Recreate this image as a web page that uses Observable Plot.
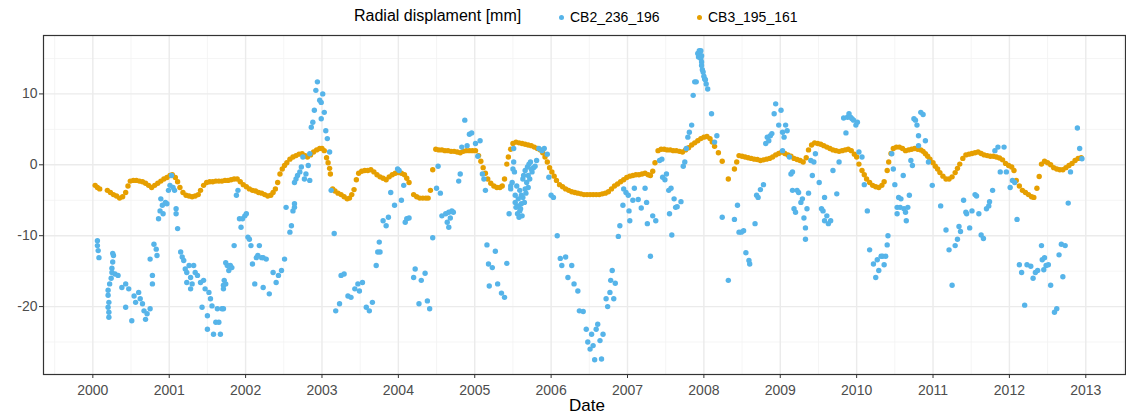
<!DOCTYPE html>
<html><head><meta charset="utf-8">
<script src="https://cdn.jsdelivr.net/npm/d3@7"></script>
<script src="https://cdn.jsdelivr.net/npm/@observablehq/plot@0.6"></script>
<style>
body{margin:0;background:#fff;font-family:"Liberation Sans",Arial,sans-serif;}
#wrap{position:relative;width:1126px;height:417px;overflow:hidden;background:#fff;}
#chart{position:absolute;top:30px;left:0;}
.lg{position:absolute;white-space:nowrap;color:#000;}
.dot{position:absolute;width:5px;height:5px;border-radius:50%;}
</style></head><body>
<div id="wrap">
  <div id="legend"></div>
  <div id="chart"></div>
  <div id="xlabel" class="lg" style="left:569px;top:396px;font-size:17px;"></div>
</div>
<script>
const seriesNames = ["CB2_236_196", "CB3_195_161"];
const seriesColors = ["#56B4E9", "#E69F00"];
const legendTitle = "Radial displament [mm]";
const xLabel = "Date";
const xTicks = [2000,2001,2002,2003,2004,2005,2006,2007,2008,2009,2010,2011,2012,2013];
const xMinor = [1999.5,2000.5,2001.5,2002.5,2003.5,2004.5,2005.5,2006.5,2007.5,2008.5,2009.5,2010.5,2011.5,2012.5,2013.5];
const yTicks = [-20,-10,0,10];
const yMinor = [-25,-15,-5,5,15];
const xDomain = [1999.354, 2013.52];
const yDomain = [-29.58, 18.24];

// CB2_236_196 : [decimal year, radial displacement mm]
const cb2 = [
[2000.06,-10.7],[2000.06,-11.4],[2000.07,-12.1],[2000.08,-13.1],
[2000.20,-17.7],[2000.20,-18.4],[2000.21,-19.4],[2000.20,-20.1],[2000.21,-20.8],[2000.21,-21.5],[2000.22,-16.8],
[2000.24,-16.0],[2000.25,-14.6],[2000.26,-13.7],[2000.27,-12.8],[2000.26,-12.5],[2000.25,-15.2],[2000.29,-15.4],[2000.33,-15.6],
[2000.38,-17.3],[2000.43,-16.8],[2000.47,-17.5],[2000.43,-20.1],[2000.51,-22.0],[2000.54,-18.5],[2000.56,-19.4],[2000.60,-18.0],
[2000.62,-18.9],[2000.65,-19.6],[2000.67,-20.6],[2000.69,-21.8],[2000.71,-21.0],[2000.75,-20.3],[2000.78,-15.6],[2000.78,-16.8],
[2000.75,-13.3],[2000.80,-11.2],[2000.83,-11.9],[2000.84,-12.8],[2000.86,-7.6],[2000.88,-6.5],[2000.89,-4.8],[2000.91,-5.7],
[2000.92,-6.9],[2000.95,-5.3],[2000.97,-5.5],[2000.99,-3.6],[2001.01,-2.9],[2001.03,-1.5],[2001.05,-3.2],[2001.07,-3.6],
[2001.09,-6.2],[2001.09,-6.9],[2001.11,-9.0],[2001.15,-12.3],[2001.17,-13.0],[2001.19,-13.5],[2001.21,-14.7],[2001.23,-15.2],
[2001.26,-14.2],[2001.28,-15.9],[2001.30,-16.8],[2001.32,-14.2],[2001.34,-15.2],[2001.37,-15.6],[2001.28,-17.5],[2001.23,-16.6],
[2001.41,-16.6],[2001.43,-20.1],[2001.45,-16.3],[2001.47,-17.5],[2001.50,-21.3],[2001.52,-18.0],[2001.50,-23.2],[2001.54,-18.9],
[2001.56,-19.9],[2001.58,-23.9],[2001.61,-22.2],[2001.63,-20.3],[2001.65,-22.2],[2001.67,-23.9],[2001.69,-20.3],[2001.74,-13.8],
[2001.74,-16.8],[2001.71,-17.0],[2001.72,-16.3],[2001.71,-17.5],[2001.71,-20.3],[2001.76,-14.2],[2001.78,-14.9],[2001.80,-14.2],
[2001.82,-14.5],[2001.85,-11.4],[2001.88,-4.3],[2001.90,-3.6],[2001.92,-7.6],[2001.94,-8.8],[2001.96,-7.6],[2001.99,-7.2],
[2002.01,-6.9],[2002.03,-10.2],[2002.05,-10.5],[2002.07,-11.4],[2002.09,-14.0],[2002.12,-16.8],[2002.14,-13.1],[2002.16,-12.8],
[2002.18,-11.4],[2002.21,-13.1],[2002.23,-13.1],[2002.23,-17.3],[2002.27,-13.3],[2002.31,-18.2],[2002.36,-15.2],[2002.40,-16.6],
[2002.43,-15.6],[2002.47,-14.9],[2002.51,-13.3],[2002.53,-6.0],[2002.58,-9.5],[2002.60,-8.6],[2002.62,-6.5],[2002.64,-5.5],
[2002.64,-6.0],[2002.64,-2.5],[2002.66,-2.0],[2002.68,-1.5],[2002.71,-1.0],[2002.73,-0.3],[2002.75,1.1],[2002.77,-2.0],
[2002.79,-1.3],[2002.82,-0.1],[2002.84,-2.2],[2002.84,1.55],[2002.86,5.3],[2002.88,6.0],[2002.90,7.7],[2002.92,10.5],
[2002.94,11.7],[2002.97,9.1],[2002.99,8.8],[2003.01,10.0],[2003.03,7.4],[2002.99,6.5],[2003.05,4.8],[2003.07,3.7],
[2003.10,1.8],[2003.12,-3.6],[2003.16,-9.7],[2003.18,-20.6],[2003.23,-19.6],[2003.25,-15.6],[2003.29,-15.4],[2003.34,-18.5],
[2003.38,-18.7],[2003.43,-17.5],[2003.47,-16.8],[2003.49,-17.8],[2003.53,-16.6],[2003.58,-20.1],[2003.62,-20.6],[2003.66,-19.4],
[2003.71,-14.2],[2003.73,-12.3],[2003.75,-10.9],[2003.76,-12.3],[2003.80,-7.9],[2003.84,-8.6],[2003.87,-7.4],[2003.90,-3.9],
[2003.95,-5.7],[2003.99,-0.6],[2004.04,-5.0],[2004.01,-0.8],[2004.07,-2.9],[2004.09,-8.1],[2004.11,-7.6],[2004.14,-7.5],
[2004.20,-15.9],[2004.22,-14.7],[2004.27,-19.6],[2004.30,-16.3],[2004.35,-15.3],[2004.38,-19.2],[2004.41,-20.3],[2004.45,-10.3],
[2004.50,-3.3],[2004.52,-0.2],[2004.55,-4.0],[2004.57,-7.2],[2004.62,-6.9],[2004.64,-8.1],[2004.66,-6.7],[2004.68,-7.5],
[2004.70,-6.5],[2004.72,-6.7],[2004.66,-8.8],[2004.79,-2.3],[2004.81,-1.3],[2004.83,2.5],[2004.87,6.3],[2004.90,2.7],
[2004.93,4.3],[2004.96,4.5],[2005.01,3.0],[2005.07,3.4],[2005.04,1.2],[2005.10,-1.3],[2005.12,-2.0],[2005.14,-3.6],
[2005.16,-11.3],[2005.18,-14.0],[2005.23,-14.5],[2005.27,-12.2],[2005.42,-13.9],[2005.19,-17.1],[2005.30,-16.8],[2005.35,-18.1],
[2005.39,-18.7],[2005.45,-6.9],
[2005.47,-3.4],[2005.47,-3.0],[2005.49,-2.5],[2005.50,-0.6],[2005.51,2.3],[2005.51,0.4],[2005.52,-1.0],[2005.53,-4.3],
[2005.53,-5.3],[2005.54,-6.0],[2005.55,-3.0],[2005.56,-6.9],[2005.57,-4.8],[2005.57,-5.8],[2005.58,-7.4],[2005.59,-6.5],
[2005.59,-3.6],[2005.60,-6.2],[2005.61,-4.3],[2005.61,-5.5],[2005.62,-7.2],[2005.63,-2.0],[2005.63,-4.6],[2005.64,-1.5],
[2005.65,-5.3],[2005.66,-3.4],[2005.66,-0.8],[2005.67,-4.0],[2005.68,-2.5],[2005.69,-0.3],[2005.70,-3.2],[2005.70,-1.5],
[2005.71,0.1],[2005.72,-2.0],[2005.73,0.4],[2005.74,-0.6],[2005.75,-1.0],[2005.77,-0.4],[2005.79,-0.2],[2005.81,0.6],
[2005.84,2.3],[2005.88,2.0],[2005.91,2.3],
[2005.95,1.5],[2005.97,-1.75],[2006.00,-4.3],[2006.03,-4.6],[2006.08,-10.0],[2006.12,-13.2],[2006.19,-13.0],[2006.14,-14.2],
[2006.27,-14.2],[2006.22,-15.9],[2006.30,-16.8],[2006.35,-17.8],[2006.37,-20.6],[2006.42,-20.7],[2006.46,-23.2],[2006.48,-25.0],
[2006.51,-26.0],[2006.53,-23.9],[2006.55,-25.5],[2006.57,-27.5],[2006.59,-23.2],[2006.61,-22.5],[2006.64,-24.8],[2006.66,-27.4],
[2006.68,-23.9],[2006.72,-18.9],[2006.74,-20.0],[2006.77,-18.0],[2006.78,-16.3],[2006.80,-14.9],[2006.82,-18.9],[2006.84,-16.7],
[2006.88,-10.1],[2006.90,-8.6],[2006.94,-5.7],[2006.95,-3.4],[2006.98,-3.9],[2007.01,-4.3],[2007.02,-6.5],[2007.03,-7.9],
[2007.07,-5.0],[2007.09,-3.3],[2007.14,-4.9],[2007.18,-6.1],[2007.23,-3.3],[2007.25,-5.3],[2007.26,-8.3],[2007.30,-12.9],
[2007.33,-7.2],[2007.37,-7.9],[2007.42,0.6],[2007.45,0.8],[2007.46,-1.75],[2007.49,-2.1],[2007.51,-1.3],[2007.54,-3.6],
[2007.57,-3.3],[2007.55,-6.9],[2007.58,-9.9],[2007.61,-4.8],[2007.63,-6.0],[2007.65,-5.9],[2007.70,-5.2],[2007.73,-0.2],
[2007.75,0.4],[2007.77,2.3],[2007.79,3.9],[2007.81,4.6],[2007.84,5.6],[2007.86,9.8],[2007.88,11.7],[2007.90,11.7],
[2007.92,15.7],[2007.94,16.1],[2007.96,15.0],[2007.97,14.0],[2007.99,13.1],[2008.01,12.1],[2008.03,11.4],[2008.05,10.7],
[2007.93,15.2],[2007.97,14.5],[2007.98,13.4],[2008.00,12.5],[2008.02,12.0],[2007.95,16.0],[2007.96,16.1],[2007.97,15.4],
[2008.10,7.2],[2008.14,3.2],[2008.17,4.1],[2008.24,-7.4],[2008.32,-16.3],[2008.40,-7.7],[2008.44,-5.7],[2008.46,-9.5],
[2008.49,-9.5],[2008.52,-9.3],[2008.55,-12.4],[2008.59,-13.5],[2008.60,-14.0],[2008.67,-8.3],[2008.69,-4.3],[2008.71,-4.6],
[2008.74,-3.5],[2008.78,-2.8],[2008.81,3.0],[2008.83,3.9],[2008.85,3.4],[2008.87,4.1],[2008.89,4.4],[2008.92,7.2],
[2008.94,8.6],[2008.98,5.6],[2009.01,7.7],[2009.03,4.6],[2009.05,3.9],[2009.07,5.6],[2009.09,4.8],[2009.03,2.0],
[2009.12,1.1],[2009.14,-1.3],[2009.16,-1.0],[2009.16,-3.6],[2009.18,-6.2],[2009.20,-6.7],[2009.22,-3.6],[2009.24,-3.9],
[2009.27,-5.3],[2009.29,-4.8],[2009.31,-7.5],[2009.33,-8.9],[2009.33,-10.5],[2009.35,-6.2],[2009.37,-4.0],[2009.40,0.6],
[2009.42,-1.5],[2009.44,0.4],[2009.46,1.55],[2009.51,-2.5],[2009.54,-6.2],[2009.56,-6.5],[2009.58,-4.6],[2009.58,-7.9],
[2009.61,-7.2],[2009.63,-8.3],[2009.66,-7.9],[2009.69,-0.8],[2009.74,-4.1],[2009.77,0.4],[2009.83,6.6],[2009.86,4.5],
[2009.88,6.7],[2009.90,7.2],[2009.92,6.7],[2009.94,6.5],[2009.96,6.3],[2009.99,5.6],[2010.01,6.0],[2010.03,1.8],
[2010.07,1.1],[2010.10,-2.8],[2010.14,-6.5],[2010.17,-12.0],[2010.22,-14.0],[2010.25,-15.9],[2010.27,-13.4],[2010.29,-14.9],
[2010.32,-12.9],[2010.34,-12.9],[2010.36,-14.1],[2010.38,-12.9],[2010.40,-11.3],[2010.41,-10.0],[2010.46,1.55],[2010.48,-0.6],
[2010.50,-2.8],[2010.53,-6.9],[2010.53,-6.0],[2010.55,-4.6],[2010.57,-6.0],[2010.58,-4.8],[2010.61,-1.5],[2010.62,-6.2],
[2010.64,-6.7],[2010.65,-7.9],[2010.67,-6.0],[2010.69,-4.3],[2010.71,0.6],[2010.73,-0.1],[2010.75,6.5],[2010.77,6.3],
[2010.79,5.6],[2010.81,4.1],[2010.81,2.7],[2010.84,7.4],[2010.87,7.1],[2010.90,3.4],[2010.94,0.4],[2010.99,-2.9],
[2011.10,-5.8],[2011.17,-9.2],[2011.21,-12.0],[2011.25,-17.0],[2011.29,-11.4],[2011.32,-10.5],[2011.34,-8.7],[2011.36,-9.4],
[2011.40,-5.0],[2011.43,-6.7],[2011.44,-6.9],[2011.48,-8.9],[2011.51,-6.5],[2011.55,-4.2],[2011.57,-4.4],[2011.60,-6.9],
[2011.63,-9.9],[2011.66,-10.4],[2011.70,-6.2],[2011.73,-5.8],[2011.74,-5.2],[2011.78,-3.6],[2011.81,2.0],[2011.85,2.5],
[2011.93,2.5],[2011.88,-1.0],[2011.96,-1.0],[2012.01,-3.2],[2012.04,-2.2],[2012.07,-2.5],[2012.10,-7.7],[2012.13,-14.1],
[2012.16,-15.2],[2012.20,-19.8],[2012.23,-14.1],[2012.28,-14.3],[2012.31,-16.0],[2012.34,-15.2],[2012.37,-14.9],[2012.42,-11.4],
[2012.43,-13.4],[2012.45,-14.8],[2012.46,-13.1],[2012.48,-14.2],[2012.51,-14.1],[2012.54,-17.0],[2012.59,-20.8],[2012.62,-20.3],
[2012.65,-12.7],[2012.68,-11.2],[2012.70,-15.8],[2012.73,-11.4],[2012.77,-5.4],[2012.80,-1.0],[2012.89,5.2],[2012.92,2.3],
[2012.95,0.85]
];

// CB3_195_161 : [decimal year, radial displacement mm]
const cb3 = [
[2000.03,-2.9],[2000.06,-3.2],[2000.09,-3.4],
[2000.19,-3.6],[2000.23,-3.9],[2000.27,-4.2],[2000.31,-4.4],[2000.35,-4.7],[2000.39,-4.5],[2000.43,-3.9],[2000.46,-3.0],[2000.49,-2.3],
[2000.53,-2.2],[2000.57,-2.2],[2000.61,-2.3],[2000.65,-2.4],[2000.69,-2.6],[2000.73,-2.9],[2000.77,-3.2],[2000.81,-2.9],[2000.85,-2.6],
[2000.89,-2.3],[2000.93,-2.0],[2000.97,-1.8],[2001.01,-1.5],[2001.04,-1.4],[2001.08,-1.8],[2001.11,-2.4],[2001.14,-3.2],[2001.18,-3.9],
[2001.22,-4.3],[2001.26,-4.4],[2001.30,-4.5],[2001.34,-4.4],[2001.38,-4.2],[2001.41,-3.6],[2001.45,-2.9],[2001.49,-2.5],[2001.53,-2.4],
[2001.57,-2.4],[2001.61,-2.3],[2001.65,-2.3],[2001.69,-2.3],[2001.73,-2.2],[2001.77,-2.2],[2001.81,-2.1],[2001.85,-2.0],[2001.89,-2.0],
[2001.93,-2.4],[2001.97,-2.8],[2002.01,-3.1],[2002.05,-3.4],[2002.09,-3.6],[2002.13,-3.7],[2002.17,-3.9],[2002.21,-4.0],[2002.25,-4.2],
[2002.29,-4.4],[2002.33,-4.3],[2002.36,-3.9],[2002.39,-3.4],
[2002.42,-2.5],[2002.45,-1.3],[2002.48,-0.6],
[2002.51,-0.1],[2002.54,0.3],[2002.58,0.8],[2002.62,1.1],[2002.66,1.3],[2002.70,1.5],[2002.74,1.55],[2002.78,1.3],[2002.81,1.1],
[2002.85,1.4],[2002.89,1.8],[2002.93,2.1],[2002.97,2.3],[2003.00,2.3],[2003.03,2.0],
[2003.06,1.0],[2003.08,0.3],[2003.10,-0.5],[2003.11,-1.3],
[2003.14,-3.4],[2003.17,-3.7],[2003.21,-4.0],[2003.25,-4.2],[2003.29,-4.5],[2003.33,-4.8],[2003.36,-4.7],[2003.39,-4.2],[2003.42,-3.5],
[2003.45,-2.1],[2003.48,-1.2],
[2003.52,-0.9],[2003.56,-0.8],[2003.60,-0.8],[2003.64,-0.7],[2003.68,-1.0],[2003.72,-1.4],[2003.76,-1.7],[2003.80,-1.9],[2003.84,-2.1],
[2003.88,-1.7],[2003.92,-1.4],[2003.96,-1.2],[2004.00,-1.1],[2004.04,-1.2],[2004.08,-1.4],[2004.11,-1.9],[2004.14,-2.5],
[2004.20,-4.2],[2004.24,-4.5],[2004.28,-4.7],[2004.32,-4.7],[2004.36,-4.7],[2004.39,-4.7],
[2004.42,-3.6],[2004.45,-0.7],
[2004.49,2.2],[2004.53,2.1],[2004.57,2.1],[2004.61,2.0],[2004.65,2.0],[2004.69,1.9],[2004.73,1.9],[2004.77,1.8],[2004.81,1.7],
[2004.85,1.9],[2004.89,2.0],[2004.93,2.0],[2004.97,2.0],[2005.01,2.0],
[2005.05,1.3],[2005.08,0.5],[2005.11,-0.4],[2005.14,-1.2],[2005.17,-2.0],[2005.21,-2.6],[2005.25,-3.0],[2005.29,-3.2],[2005.33,-3.2],
[2005.36,-3.0],
[2005.39,-2.0],[2005.42,0.1],[2005.44,1.1],[2005.47,2.2],
[2005.50,3.0],[2005.54,3.2],[2005.58,3.1],[2005.62,3.0],[2005.66,2.9],[2005.70,2.8],[2005.74,2.7],[2005.78,2.5],[2005.82,2.3],
[2005.86,2.1],[2005.89,1.7],[2005.92,1.1],[2005.95,0.4],[2005.98,-0.4],[2006.01,-1.0],[2006.04,-1.6],[2006.07,-2.2],[2006.11,-2.8],
[2006.15,-3.1],[2006.19,-3.4],[2006.23,-3.6],[2006.27,-3.8],[2006.31,-3.9],[2006.35,-4.0],[2006.39,-4.1],[2006.43,-4.2],[2006.47,-4.2],
[2006.51,-4.2],[2006.55,-4.2],[2006.59,-4.2],[2006.63,-4.2],[2006.67,-4.1],[2006.71,-4.0],[2006.75,-3.8],[2006.79,-3.4],[2006.83,-3.0],
[2006.87,-2.7],[2006.91,-2.4],[2006.95,-2.1],[2006.99,-1.8],[2007.03,-1.6],[2007.07,-1.5],[2007.11,-1.4],[2007.15,-1.4],[2007.19,-1.3],
[2007.23,-1.2],[2007.27,-1.4],[2007.30,-1.5],
[2007.33,-0.9],[2007.36,0.3],
[2007.40,2.0],[2007.44,2.2],[2007.48,2.2],[2007.52,2.1],[2007.56,2.1],[2007.60,2.0],[2007.64,2.0],[2007.68,1.9],[2007.72,1.8],
[2007.76,2.1],[2007.80,2.4],[2007.84,2.8],[2007.88,3.1],[2007.92,3.4],[2007.96,3.7],[2008.00,3.9],[2008.04,4.0],[2008.08,3.7],
[2008.11,3.2],
[2008.14,2.6],[2008.19,1.7],[2008.24,0.5],[2008.32,-2.0],[2008.40,-0.6],[2008.43,0.4],
[2008.46,1.3],[2008.50,1.2],[2008.54,1.1],[2008.58,1.0],[2008.62,0.9],[2008.66,0.8],[2008.70,0.75],[2008.74,0.6],[2008.78,0.7],
[2008.82,0.8],[2008.86,0.9],[2008.90,1.1],[2008.94,1.4],[2008.98,1.6],[2009.02,1.8],[2009.06,1.6],[2009.10,1.4],[2009.14,1.2],
[2009.18,0.9],[2009.22,0.75],[2009.26,0.6],[2009.30,0.4],
[2009.34,1.0],[2009.37,2.1],[2009.41,2.8],[2009.45,3.1],[2009.49,3.0],[2009.53,2.9],[2009.57,2.7],[2009.61,2.5],[2009.65,2.3],
[2009.69,2.1],[2009.73,2.0],[2009.77,1.9],[2009.81,2.0],[2009.85,2.1],[2009.89,2.2],[2009.93,2.0],[2009.97,1.5],
[2010.00,1.1],[2010.03,0.1],[2010.07,-0.8],[2010.10,-1.4],[2010.13,-2.0],
[2010.17,-2.5],[2010.21,-2.9],[2010.25,-3.1],[2010.29,-3.2],[2010.33,-2.9],[2010.36,-2.4],
[2010.40,-0.8],[2010.42,0.4],[2010.45,1.6],
[2010.48,2.3],[2010.52,2.5],[2010.56,2.5],[2010.60,2.3],[2010.64,2.0],[2010.68,2.1],[2010.72,2.2],[2010.76,2.3],[2010.80,2.2],
[2010.84,2.1],[2010.87,1.9],[2010.90,1.55],[2010.93,1.2],[2010.96,0.8],
[2011.00,0.3],[2011.03,-0.2],[2011.06,-0.6],[2011.09,-1.1],[2011.13,-1.6],[2011.17,-2.0],[2011.21,-2.0],[2011.25,-1.7],[2011.29,-1.1],
[2011.32,-0.5],[2011.35,0.1],[2011.39,0.9],[2011.43,1.4],[2011.47,1.5],[2011.51,1.6],[2011.55,1.7],[2011.59,1.8],[2011.63,1.6],
[2011.67,1.4],[2011.71,1.3],[2011.75,1.2],[2011.79,1.2],[2011.83,1.1],[2011.87,0.95],[2011.91,0.7],[2011.95,0.2],[2011.99,-0.1],
[2012.03,-0.3],[2012.06,-0.8],[2012.09,-2.2],[2012.13,-3.0],[2012.17,-3.6],[2012.21,-3.9],[2012.25,-4.2],[2012.29,-4.5],[2012.32,-4.6],
[2012.36,-3.3],[2012.39,-1.65],
[2012.42,0.1],[2012.46,0.5],[2012.50,0.3],[2012.54,0.0],[2012.58,-0.4],[2012.62,-0.6],[2012.66,-0.7],[2012.70,-0.7],[2012.74,-0.4],
[2012.78,-0.1],[2012.82,0.2],[2012.86,0.6],[2012.90,0.9],[2012.94,1.0]
];

// ---- legend (HTML, above the SVG) ----
const legend = document.getElementById("legend");
function addText(txt, left, top, size) {
  const d = document.createElement("div");
  d.className = "lg"; d.textContent = txt;
  d.style.left = left + "px"; d.style.top = top + "px"; d.style.fontSize = size + "px";
  legend.appendChild(d);
}
function addDot(color, cx, cy) {
  const d = document.createElement("div");
  d.className = "dot"; d.style.background = color;
  d.style.left = (cx - 2.5) + "px"; d.style.top = (cy - 2.5) + "px";
  legend.appendChild(d);
}
addText(legendTitle, 354, 7, 16);
addDot(seriesColors[0], 561, 17);
addText(seriesNames[0], 570, 9, 14);
addDot(seriesColors[1], 699, 17);
addText(seriesNames[1], 708, 9, 14);
document.getElementById("xlabel").textContent = xLabel;

// ---- chart ----
const rows = [
  ...cb3.map(([t, v]) => ({t, v, s: seriesNames[1]})),
  ...cb2.map(([t, v]) => ({t, v, s: seriesNames[0]}))
];

const chart = Plot.plot({
  width: 1126,
  height: 372,
  marginLeft: 43,
  marginRight: 1,
  marginTop: 5,
  marginBottom: 28,
  x: {domain: xDomain},
  y: {domain: yDomain},
  color: {domain: seriesNames, range: seriesColors},
  style: {fontFamily: '"Liberation Sans", Arial, sans-serif', fontSize: "14px", background: "white", overflow: "visible"},
  marks: [
    Plot.gridX(xMinor, {stroke: "#F3F3F3", strokeOpacity: 1, strokeWidth: 0.8}),
    Plot.gridY(yMinor, {stroke: "#F3F3F3", strokeOpacity: 1, strokeWidth: 0.8}),
    Plot.gridX(xTicks, {stroke: "#EBEBEB", strokeOpacity: 1, strokeWidth: 1.4}),
    Plot.gridY(yTicks, {stroke: "#EBEBEB", strokeOpacity: 1, strokeWidth: 1.4}),
    Plot.dot(rows, {x: "t", y: "v", fill: "s", r: 2.7}),
    Plot.frame({stroke: "#333333", strokeWidth: 1.2}),
    Plot.axisX(xTicks, {anchor: "bottom", tickSize: 4, tickPadding: 7, tickFormat: d => String(d), label: null, stroke: "#333333", fill: "#4D4D4D"}),
    Plot.axisY(yTicks, {anchor: "left", tickSize: 4, tickPadding: 2, tickFormat: d => String(d), label: null, stroke: "#333333", fill: "#4D4D4D"})
  ]
});
document.getElementById("chart").appendChild(chart);
</script>
</body></html>
